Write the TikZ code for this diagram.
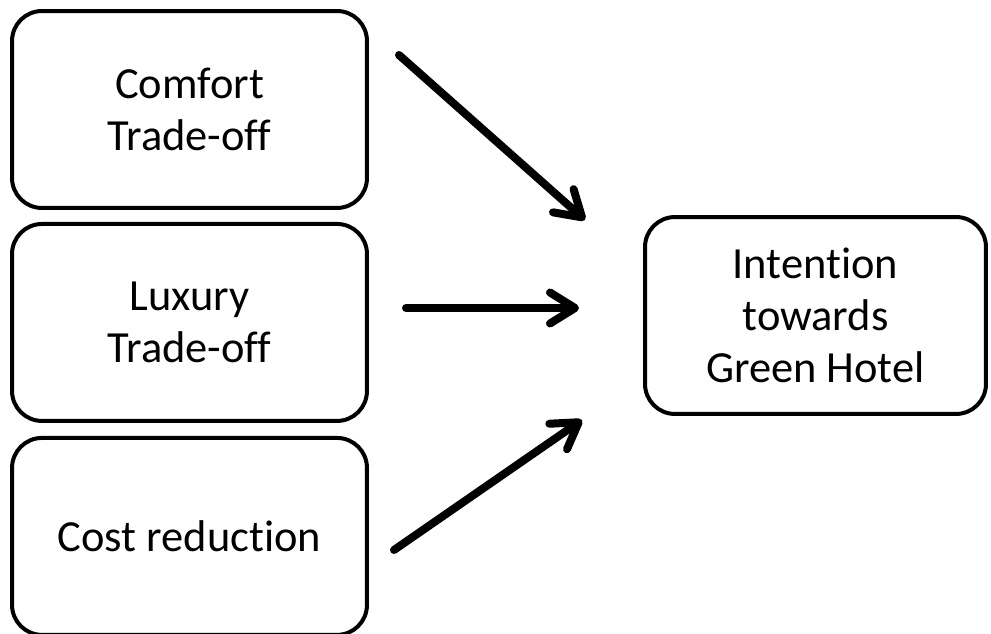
\documentclass[tikz,border=0pt]{standalone}
\usepackage{fontspec}
\setmainfont{Carlito}[Ligatures=NoCommon]
\usetikzlibrary{arrows.meta, positioning}

\begin{document}
\begin{tikzpicture}[
    x=0.02cm, y=-0.02cm,
    factor/.style = {rectangle, rounded corners=0.6cm, draw=black, line width=0.08cm, minimum width=7.1cm, minimum height=3.94cm, align=center, font=\fontsize{25.3}{29.6}\selectfont},
    outcome/.style = {factor, minimum width=6.82cm},
    arrow/.style = {-{Straight Barb[length=0.5cm, width=0.62cm, round]}, line width=0.16cm, line cap=round}
]
    \useasboundingbox (0,0) rectangle (991,634);
    \node[factor] (comfort) at (189.5,109.5) {Comfort\\Trade-off};
    \node[factor, below=0.24cm of comfort] (luxury) {Luxury\\Trade-off};
    \node[factor, below=0.26cm of luxury] (cost) {Cost reduction};
    \node[outcome] (intention) at (815.5,315.5) {Intention\\towards\\Green Hotel};
    \coordinate (comfortout) at (399,55);
    \coordinate (comfortin) at (585,220);
    \coordinate (luxuryout) at (406,308);
    \coordinate (luxuryin) at (579,308);
    \coordinate (costout) at (394,550);
    \coordinate (costin) at (582,420);
    \draw[arrow] (comfortout) -- (comfortin);
    \draw[arrow] (luxuryout) -- (luxuryin);
    \draw[arrow] (costout) -- (costin);
\end{tikzpicture}
\end{document}
